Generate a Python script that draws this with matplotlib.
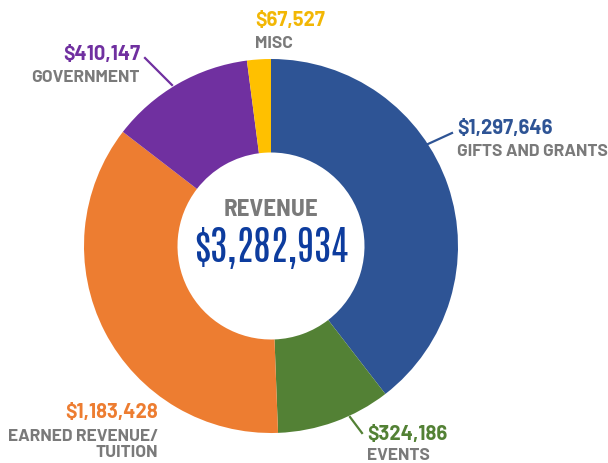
import matplotlib
matplotlib.use("Agg")
import matplotlib.pyplot as plt

W, H = 608, 463

categories = ["GIFTS AND GRANTS", "EVENTS", "EARNED REVENUE/\nTUITION", "GOVERNMENT", "MISC"]
values = [1297646, 324186, 1183428, 410147, 67527]
colors = ["#2E5495", "#538135", "#ED7D31", "#7030A0", "#FFC000"]
total_label = "REVENUE"

LABEL_FONT = ["Barlow", "DejaVu Sans"]
TITLE_FONT = ["Barlow Semi Condensed", "DejaVu Sans"]
BIG_FONT = ["Antonio", "Oswald", "DejaVu Sans"]

fig = plt.figure(figsize=(W / 100, H / 100), dpi=100)
ax = fig.add_axes([0, 0, 1, 1])

cx, cy, R = 271, H - 246, 187
ax.pie(values, colors=colors, startangle=90, counterclock=False,
       center=(cx, cy), radius=R, frame=True,
       wedgeprops=dict(width=R * 0.5, edgecolor="none"))
ax.set_xlim(0, W)
ax.set_ylim(0, H)
ax.set_aspect("equal")
ax.axis("off")

gray = "#7A7A7A"
def Y(y):
    return H - y

def fmt(v):
    return "${:,}".format(v)

# center text
ax.text(cx, Y(210), total_label, ha="center", va="center", fontsize=18,
        fontweight="bold", color=gray, family=TITLE_FONT)
ax.text(cx, Y(248), fmt(sum(values)), ha="center", va="center", fontsize=29.5,
        fontweight="bold", color="#0D3C9E", family=BIG_FONT)

lab_fs = 14.5
cat_fs = 12.5
# label layout: (value_xy, cat_xy, ha)
layout = [
    ((457, 129), (457, 151), "left"),
    ((367, 435), (367, 456), "left"),
    ((158, 413), (158, 444.5), "right"),
    ((140, 54), (140, 77), "right"),
    ((255, 21), (255, 44), "left"),
]
for v, c, col, (vp, cp, ha) in zip(values, categories, colors, layout):
    ax.text(vp[0], Y(vp[1]), fmt(v), ha=ha, va="center", fontsize=lab_fs,
            fontweight="bold", color=col if col != "#FFC000" else "#F2B705",
            family=LABEL_FONT)
    ax.text(cp[0], Y(cp[1]), c, ha=ha, va="center", fontsize=cat_fs,
            fontweight="bold", color=gray, family=LABEL_FONT, linespacing=1.1)

# leader lines
leaders = [((428, 144), (452, 133), colors[0]),
           ((350, 417), (362, 433), colors[1]),
           ((172, 85), (145, 58), colors[3])]
for (x0, y0), (x1, y1), col in leaders:
    ax.plot([x0, x1], [Y(y0), Y(y1)], color=col, lw=1.6)

fig.savefig("out.png", dpi=100)
